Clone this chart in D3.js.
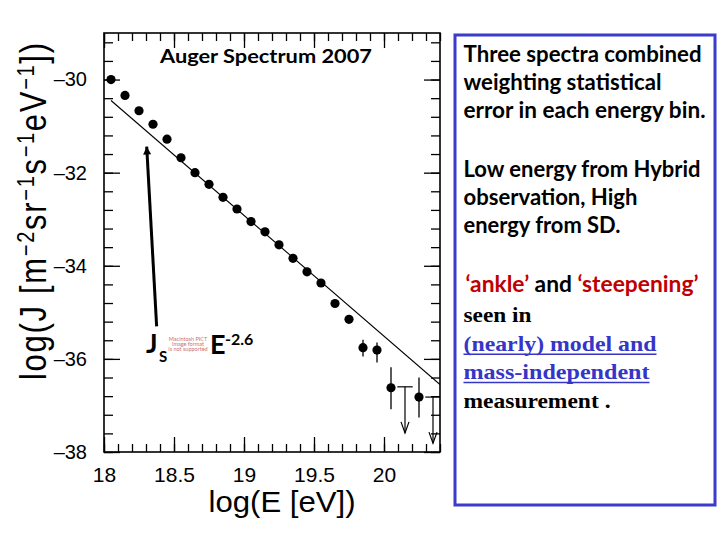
<!DOCTYPE html>
<html>
<head>
<meta charset="utf-8">
<script src="https://cdn.jsdelivr.net/npm/d3@7"></script>
<style>
  body { margin: 0; background: #fff; }
  svg { display: block; }
</style>
</head>
<body>
<svg id="chart"></svg>
<script>
// Auger spectrum 2007 : log10 of energy bins and flux
const logE = [18.05, 18.15, 18.25, 18.35, 18.45, 18.55, 18.65, 18.75, 18.85, 18.95, 19.05,
              19.15, 19.25, 19.35, 19.45, 19.55, 19.65, 19.75, 19.85, 19.95, 20.05, 20.25];
const logJ = [-30.00, -30.34, -30.67, -30.96, -31.28, -31.68, -32.00, -32.25, -32.53, -32.78, -33.05,
              -33.27, -33.55, -33.84, -34.13, -34.37, -34.81, -35.15, -35.76, -35.81, -36.62, -36.82];
const errUp   = [0.01, 0.01, 0.01, 0.01, 0.01, 0.01, 0.01, 0.01, 0.01, 0.02, 0.02,
                 0.02, 0.03, 0.03, 0.04, 0.05, 0.06, 0.08, 0.17, 0.16, 0.44, 0.42];
const errDown = [0.01, 0.01, 0.01, 0.01, 0.01, 0.01, 0.01, 0.01, 0.01, 0.02, 0.02,
                 0.02, 0.03, 0.03, 0.04, 0.05, 0.07, 0.09, 0.19, 0.27, 0.46, 0.44];

// upper limits (bar value, arrow end)
const limitE = [20.15, 20.35];
const limitJ = [-36.60, -36.82];
const limitTo = [-37.59, -37.81];

// J_s ~ E^-2.6 line
const fitE = [18.05, 20.40];
const fitJ = [-30.45, -36.55];

// annotation arrow (from label up to the line)
const arrowE = [18.376, 18.305];
const arrowJ = [-35.30, -31.44];

const xTickLabels = [18, 18.5, 19, 19.5, 20];
const yTickLabels = [-38, -36, -34, -32, -30];

const width = 720, height = 540;
const frame = { left: 104, right: 440, top: 33, bottom: 452 };

const svg = d3.select('#chart').attr('width', width).attr('height', height);
svg.append('rect').attr('width', width).attr('height', height).attr('fill', '#fff');

const x = d3.scaleLinear().domain([18, 20.4]).range([frame.left, frame.right]);
const y = d3.scaleLinear().domain([-38, -29]).range([frame.bottom, frame.top]);

const xMinor = d3.range(0, 25).map(i => 18 + i * 0.1);
const yMinor = d3.range(0, 23).map(i => -38 + i * 0.4);

svg.append('defs').append('clipPath').attr('id', 'clip')
  .append('rect')
  .attr('x', frame.left).attr('y', frame.top)
  .attr('width', frame.right - frame.left).attr('height', frame.bottom - frame.top);

// axes (ticks pointing inward, like ROOT)
function tidy(g) {
  g.select('.domain').remove();
  g.selectAll('line').attr('stroke', '#000').attr('stroke-width', 1.3);
  g.selectAll('text').attr('fill', '#000')
    .style('font-family', '"Liberation Sans", Arial, sans-serif');
}

svg.append('g').attr('transform', `translate(0,${frame.bottom})`)
  .call(d3.axisBottom(x).tickValues(xMinor).tickSizeInner(-8).tickSizeOuter(0).tickFormat(''))
  .call(tidy);
svg.append('g').attr('transform', `translate(0,${frame.bottom})`)
  .call(d3.axisBottom(x).tickValues(xTickLabels).tickSizeInner(-15).tickSizeOuter(0)
    .tickPadding(15).tickFormat(d => d))
  .call(tidy)
  .selectAll('text').style('font-size', '21px');

svg.append('g').attr('transform', `translate(0,${frame.top})`)
  .call(d3.axisTop(x).tickValues(xMinor).tickSizeInner(-8).tickSizeOuter(0).tickFormat(''))
  .call(tidy);
svg.append('g').attr('transform', `translate(0,${frame.top})`)
  .call(d3.axisTop(x).tickValues(xTickLabels).tickSizeInner(-15).tickSizeOuter(0).tickFormat(''))
  .call(tidy);

svg.append('g').attr('transform', `translate(${frame.left},0)`)
  .call(d3.axisLeft(y).tickValues(yMinor).tickSizeInner(-9).tickSizeOuter(0).tickFormat(''))
  .call(tidy);
svg.append('g').attr('transform', `translate(${frame.left},0)`)
  .call(d3.axisLeft(y).tickValues(yTickLabels).tickSizeInner(-16).tickSizeOuter(0)
    .tickPadding(17).tickFormat(d => '\u2013' + Math.abs(d)))
  .call(tidy)
  .selectAll('text').style('font-size', '20px');

svg.append('g').attr('transform', `translate(${frame.right},0)`)
  .call(d3.axisRight(y).tickValues(yMinor).tickSizeInner(-9).tickSizeOuter(0).tickFormat(''))
  .call(tidy);
svg.append('g').attr('transform', `translate(${frame.right},0)`)
  .call(d3.axisRight(y).tickValues(yTickLabels).tickSizeInner(-16).tickSizeOuter(0).tickFormat(''))
  .call(tidy);

svg.append('rect')
  .attr('x', frame.left).attr('y', frame.top)
  .attr('width', frame.right - frame.left).attr('height', frame.bottom - frame.top)
  .attr('fill', 'none').attr('stroke', '#000').attr('stroke-width', 1.6);

const plot = svg.append('g').attr('clip-path', 'url(#clip)');

// power law line
plot.append('line')
  .attr('x1', x(fitE[0])).attr('y1', y(fitJ[0]))
  .attr('x2', x(fitE[1])).attr('y2', y(fitJ[1]))
  .attr('stroke', '#000').attr('stroke-width', 1.1);

// error bars
plot.selectAll('line.err').data(logE).enter().append('line')
  .attr('class', 'err')
  .attr('x1', d => x(d)).attr('x2', d => x(d))
  .attr('y1', (d, i) => y(logJ[i] + errUp[i]))
  .attr('y2', (d, i) => y(logJ[i] - errDown[i]))
  .attr('stroke', '#000').attr('stroke-width', 1.3);

// points
plot.selectAll('circle').data(logE).enter().append('circle')
  .attr('cx', d => x(d))
  .attr('cy', (d, i) => y(logJ[i]))
  .attr('r', 4.6)
  .attr('fill', '#000');

// upper limits
const lim = plot.selectAll('g.limit').data(limitE).enter().append('g').attr('class', 'limit');
lim.append('line')
  .attr('x1', d => x(d - 0.055)).attr('x2', d => x(d + 0.055))
  .attr('y1', (d, i) => y(limitJ[i])).attr('y2', (d, i) => y(limitJ[i]))
  .attr('stroke', '#000').attr('stroke-width', 1.2);
lim.append('line')
  .attr('x1', d => x(d)).attr('x2', d => x(d))
  .attr('y1', (d, i) => y(limitJ[i])).attr('y2', (d, i) => y(limitTo[i]))
  .attr('stroke', '#000').attr('stroke-width', 1.2);
lim.append('path')
  .attr('d', (d, i) => {
    const px = x(d), py = y(limitTo[i]);
    return `M${px - 4},${py - 11}L${px},${py}L${px + 4},${py - 11}`;
  })
  .attr('fill', 'none').attr('stroke', '#000').attr('stroke-width', 1.2);

// title
svg.append('text')
  .attr('x', 266).attr('y', 63)
  .attr('text-anchor', 'middle')
  .attr('textLength', 212).attr('lengthAdjust', 'spacingAndGlyphs')
  .style('font-family', 'Lato, "Open Sans", sans-serif')
  .style('font-weight', 'bold').style('font-size', '18px')
  .text('Auger Spectrum 2007');

// annotation arrow
svg.append('defs').append('marker')
  .attr('id', 'head').attr('markerUnits', 'userSpaceOnUse')
  .attr('viewBox', '0 0 10 10').attr('refX', 10).attr('refY', 5)
  .attr('markerWidth', 9).attr('markerHeight', 8).attr('orient', 'auto')
  .append('path').attr('d', 'M0,0L10,5L0,10Z').attr('fill', '#000');
svg.append('line')
  .attr('x1', x(arrowE[0])).attr('y1', y(arrowJ[0]))
  .attr('x2', x(arrowE[1])).attr('y2', y(arrowJ[1]))
  .attr('stroke', '#000').attr('stroke-width', 3)
  .attr('marker-end', 'url(#head)');

const ann = svg.append('g')
  .style('font-family', 'Lato, "Open Sans", sans-serif').style('font-weight', 'bold');
ann.append('text').attr('x', 146).attr('y', 353).style('font-size', '27px').text('J');
ann.append('text').attr('x', 159).attr('y', 362).style('font-size', '15px').text('S');
ann.append('text').attr('x', 210).attr('y', 354).style('font-size', '27px').text('E');
ann.append('text').attr('x', 225).attr('y', 345).style('font-size', '16px').text('-2.6');
const pict = ['Macintosh PICT', 'image format', 'is not supported'];
ann.selectAll('text.pict').data(pict).enter().append('text')
  .attr('class', 'pict')
  .attr('x', 188).attr('y', (d, i) => 341 + i * 5)
  .attr('text-anchor', 'middle')
  .style('font-size', '5.5px').style('font-weight', 'normal')
  .attr('fill', '#cc7070')
  .text(d => d);

// axis titles
svg.append('text')
  .attr('x', 282).attr('y', 512)
  .attr('text-anchor', 'middle')
  .attr('textLength', 147).attr('lengthAdjust', 'spacingAndGlyphs')
  .style('font-family', '"Liberation Sans", Arial, sans-serif').style('font-size', '29px')
  .text('log(E [eV])');

const yt = svg.append('text')
  .attr('transform', 'translate(46,380) rotate(-90) scale(1,1.2)')
  .attr('textLength', 337).attr('lengthAdjust', 'spacing')
  .style('font-family', '"Liberation Sans", Arial, sans-serif').style('font-size', '31px');
const ytParts = [['log(J [m', 0], ['\u22122', 1], ['sr', 0], ['\u22121', 1], ['s', 0],
                 ['\u22121', 1], ['eV', 0], ['\u22121', 1], ['])', 0]];
let up = false;
ytParts.forEach(([t, sup]) => {
  const s = yt.append('tspan').text(t);
  if (sup && !up) { s.attr('dy', '-0.5em').style('font-size', '20px'); up = true; }
  else if (sup) { s.style('font-size', '20px'); }
  else if (up) { s.attr('dy', '10px'); up = false; }
});

// text panel
svg.append('rect')
  .attr('x', 455).attr('y', 35).attr('width', 260).attr('height', 470)
  .attr('fill', 'none').attr('stroke', '#3b3bcc').attr('stroke-width', 3);

const calibri = [
  ['Three spectra combined', 61.7, 238],
  ['weighting statistical', 90, 198],
  ['error in each energy bin.', 117.5, 242],
  ['Low energy from Hybrid', 176.7, 237],
  ['observation, High', 205, 174],
  ['energy from SD.', 232.7, 157]
];
svg.selectAll('text.note').data(calibri).enter().append('text')
  .attr('class', 'note')
  .attr('x', 463.5).attr('y', d => d[1])
  .attr('textLength', d => d[2]).attr('lengthAdjust', 'spacingAndGlyphs')
  .style('font-family', 'Lato, "Open Sans", sans-serif')
  .style('font-weight', 'bold').style('font-size', '22px')
  .attr('fill', '#000')
  .text(d => d[0]);

const ankle = svg.append('text')
  .attr('x', 465.5).attr('y', 292)
  .attr('textLength', 233).attr('lengthAdjust', 'spacingAndGlyphs')
  .style('font-family', 'Lato, "Open Sans", sans-serif')
  .style('font-weight', 'bold').style('font-size', '22px');
ankle.append('tspan').attr('fill', '#c00000').text('\u2018ankle\u2019');
ankle.append('tspan').attr('fill', '#000').text(' and ');
ankle.append('tspan').attr('fill', '#c00000').text('\u2018steepening\u2019');

const times = [
  ['seen in', 322, 68, '#000', false],
  ['(nearly) model and', 350.7, 193, '#3535c8', true],
  ['mass-independent', 379, 186, '#3535c8', true],
  ['measurement .', 407.7, 147, '#000', false]
];
svg.selectAll('text.serif').data(times).enter().append('text')
  .attr('class', 'serif')
  .attr('x', 463.5).attr('y', d => d[1])
  .attr('textLength', d => d[2]).attr('lengthAdjust', 'spacingAndGlyphs')
  .style('font-family', '"Liberation Serif", "Times New Roman", serif')
  .style('font-weight', 'bold').style('font-size', '22px')
  .attr('fill', d => d[3])
  .text(d => d[0]);
svg.selectAll('line.ul').data(times.filter(d => d[4])).enter().append('line')
  .attr('class', 'ul')
  .attr('x1', 463.5).attr('x2', d => 463.5 + d[2])
  .attr('y1', d => d[1] + 3.5).attr('y2', d => d[1] + 3.5)
  .attr('stroke', d => d[3]).attr('stroke-width', 1.6);
</script>
</body>
</html>
